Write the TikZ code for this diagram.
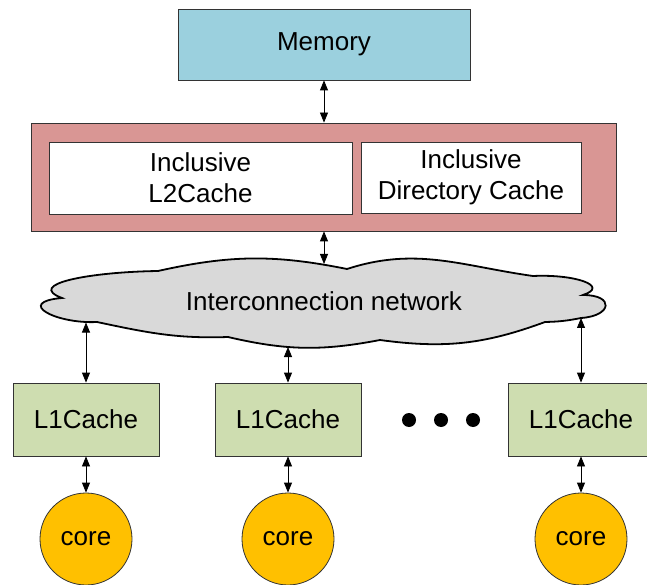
\documentclass[tikz,border=0pt]{standalone}
\usepackage{fontspec}
\setmainfont{Liberation Sans}
\usetikzlibrary{arrows.meta}

\definecolor{memblue}{HTML}{9BD0DE}
\definecolor{l2red}{HTML}{D99694}
\definecolor{l1green}{HTML}{CEDDB0}
\definecolor{coreorange}{HTML}{FFC000}
\definecolor{netgray}{HTML}{D9D9D9}

\tikzset{
  txt/.style={font=\fontsize{26}{31}\selectfont},
  box/.style={txt, draw=black!80, line width=0.8pt, inner sep=0pt, align=center},
  l1box/.style={box, fill=l1green, minimum width=146, minimum height=73},
  corenode/.style={txt, circle, draw=black!80, line width=0.8pt, fill=coreorange, minimum size=92, inner sep=0pt},
  dotnode/.style={circle, fill=black, minimum size=14, inner sep=0pt},
}

\begin{document}
\begin{tikzpicture}[x=1pt, y=1pt, >={Triangle[length=10pt,width=8pt]}]
  \useasboundingbox (0,0) rectangle (647,584);

  % cloud
  \filldraw[fill=netgray, line width=1.8pt]
    (158,313) to[bend left=12] (347,315)
    to[out=18, in=172] (533,308)
    .. controls (575,310) and (610,298) .. (583,289)
    .. controls (615,289) and (612,268) .. (581,266)
    to[bend left=5] (545,262)
    to[bend left=14] (380,244)
    to[bend left=12] (228,247)
    to[out=182, in=-12] (97,262)
    .. controls (55,260) and (15,282) .. (62,286)
    .. controls (25,300) and (90,312) .. cycle;
  \node[txt] (net) at (324,283) {Interconnection network};
  \coordinate (nettop) at (324,320);
  \coordinate (netbl) at (86,261.5);
  \coordinate (netbm) at (288,237);
  \coordinate (netbr) at (581,266);

  \begin{scope}
    \node[box, fill=memblue, minimum width=292, minimum height=71] (mem) at (324,539.5) {Memory};
    \node[box, fill=l2red, minimum width=585, minimum height=108] (l2) at (324,407) {};
    \node[box, fill=white, minimum width=303, minimum height=72] (l2cache) at (200.5,406) {Inclusive\\L2Cache};
    \node[box, fill=white, minimum width=220, minimum height=71] (dircache) at (471,406.5) {Inclusive\\Directory Cache};

    \node[l1box] (l1a) at (86,164.5) {L1Cache};
    \node[l1box] (l1b) at (288,164.5) {L1Cache};
    \node[l1box] (l1c) at (581,164.5) {L1Cache};

    \node[corenode] (corea) at (86,45) {core};
    \node[corenode] (coreb) at (288,45) {core};
    \node[corenode] (corec) at (581,45) {core};

    \node[dotnode] (dot1) at (409,164) {};
    \node[dotnode] (dot2) at (441,164) {};
    \node[dotnode] (dot3) at (473,164) {};
  \end{scope}

  \begin{scope}[<->, line width=0.8pt]
    \draw (mem) to (l2);
    \draw (l2) to (nettop);
    \draw (netbl) to (l1a);
    \draw (netbm) to (l1b);
    \draw (netbr) to (l1c);
    \draw (l1a) to (corea);
    \draw (l1b) to (coreb);
    \draw (l1c) to (corec);
  \end{scope}
\end{tikzpicture}
\end{document}
